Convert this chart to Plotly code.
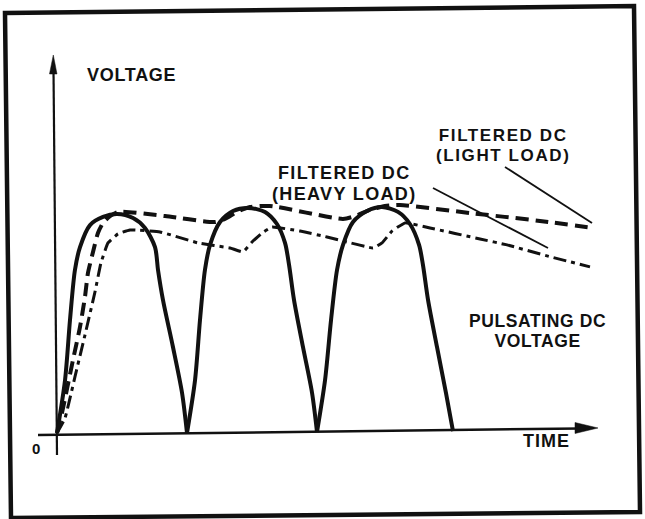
import plotly.graph_objects as go

W, H = 645, 519

# Time is measured in half-cycles of the AC input, voltage relative to the peak.
# Pulsating DC from a full-wave rectifier: three humps, separated by None.
pulse_t = [0.000, 0.062, 0.100, 0.138, 0.177, 0.254, 0.354, 0.462, 0.585, 0.677,
           0.754, 0.777, 0.815, 0.892, 0.962, 1.000, None,
           1.000, 1.062, 1.100, 1.138, 1.177, 1.254, 1.354, 1.469, 1.600, 1.692,
           1.754, 1.785, 1.823, 1.892, 1.962, 2.000, None,
           2.000, 2.062, 2.108, 2.154, 2.200, 2.277, 2.385, 2.500, 2.623, 2.715,
           2.785, 2.815, 2.854, 2.923, 2.992, 3.046]
pulse_v = [0.000, 0.241, 0.514, 0.741, 0.845, 0.945, 0.982, 0.995, 0.977, 0.932,
           0.845, 0.741, 0.605, 0.391, 0.182, 0.000, None,
           0.000, 0.241, 0.514, 0.741, 0.855, 0.959, 1.009, 1.023, 1.005, 0.950,
           0.864, 0.764, 0.605, 0.391, 0.182, 0.005, None,
           0.005, 0.241, 0.514, 0.741, 0.855, 0.959, 1.009, 1.027, 1.005, 0.950,
           0.855, 0.764, 0.605, 0.391, 0.182, 0.009]

# Filtered DC output, heavy load (large ripple)
heavy_t = [0.000, 0.062, 0.138, 0.215, 0.292, 0.338, 0.392, 0.469, 0.562, 0.792,
           1.085, 1.331, 1.431, 1.500, 1.577, 1.654, 1.869, 2.077, 2.231, 2.431,
           2.500, 2.577, 2.677, 2.869, 3.254, 3.462, 3.769, 4.100]
heavy_v = [0.000, 0.068, 0.255, 0.445, 0.641, 0.773, 0.864, 0.905, 0.923, 0.914,
           0.864, 0.841, 0.823, 0.868, 0.909, 0.936, 0.918, 0.891, 0.868, 0.841,
           0.864, 0.918, 0.955, 0.932, 0.882, 0.855, 0.805, 0.755]

# Filtered DC output, light load (small ripple)
light_t = [0.000, 0.038, 0.123, 0.177, 0.215, 0.238, 0.277, 0.315, 0.354, 0.408,
           0.469, 0.831, 1.215, 1.292, 1.385, 1.485, 1.638, 2.200, 2.292, 2.408,
           2.523, 2.638, 3.177, 3.715, 4.123]
light_v = [0.000, 0.091, 0.332, 0.482, 0.618, 0.727, 0.823, 0.909, 0.955, 0.986,
           1.005, 0.986, 0.959, 0.973, 1.005, 1.027, 1.032, 0.973, 0.986, 1.014,
           1.032, 1.036, 1.000, 0.964, 0.932]

INK = "#111111"
FONT = "Liberation Sans, Arial, Helvetica, sans-serif"


def paper(x, y):
    """Pixel position on the page -> paper coordinates."""
    return x / W, 1 - y / H


fig = go.Figure()
fig.add_trace(go.Scatter(x=light_t, y=light_v, mode="lines",
                         line=dict(color=INK, width=4, dash="13px,7px",
                                   shape="spline", smoothing=0.6),
                         hoverinfo="skip"))
fig.add_trace(go.Scatter(x=heavy_t, y=heavy_v, mode="lines",
                         line=dict(color=INK, width=3, dash="13px,5px,4px,5px",
                                   shape="spline", smoothing=0.3),
                         hoverinfo="skip"))
fig.add_trace(go.Scatter(x=pulse_t, y=pulse_v, mode="lines",
                         line=dict(color=INK, width=4, shape="spline", smoothing=0.8),
                         connectgaps=False, hoverinfo="skip"))

shapes = []


def seg(x0, y0, x1, y1, width):
    a, b = paper(x0, y0)
    c, d = paper(x1, y1)
    shapes.append(dict(type="line", xref="paper", yref="paper", x0=a, y0=b, x1=c, y1=d,
                       line=dict(color=INK, width=width)))


def poly(points, width=0, fill=None):
    p = " L ".join(f"{paper(x, y)[0]:.5f},{paper(x, y)[1]:.5f}" for x, y in points)
    shapes.append(dict(type="path", xref="paper", yref="paper", path=f"M {p} Z",
                       fillcolor=fill if fill else "rgba(0,0,0,0)",
                       line=dict(color=INK, width=width)))


# outer frame
poly([(5, 13), (634, 6), (640, 512), (11, 518)], width=4.5)
# axes with arrowheads
seg(57, 455, 53.5, 70, 2.2)
poly([(53.3, 55), (49.5, 74), (57, 74)], width=0.5, fill=INK)
seg(38, 435, 580, 428.5, 2.5)
poly([(598, 428), (575, 422.5), (575, 433.5)], width=0.5, fill=INK)
# leader lines to the filtered-DC curves
seg(433, 188, 548, 248, 1.8)
seg(505, 167, 592, 223, 1.8)

fig.update_layout(shapes=shapes)


def label(lines, x, y, size, spacing):
    """Bold label, one or more lines, centred on (x, y) in page pixels."""
    a, b = paper(x, y)
    body = "<br>".join(
        f"<span style='font-size:{size}px;letter-spacing:{spacing}px'><b>{t}</b></span>"
        for t in lines)
    # line pitch follows the base font size (1.3 em per line)
    fig.add_annotation(x=a, y=b, xref="paper", yref="paper", text=body,
                       showarrow=False, xanchor="center", yanchor="middle",
                       font=dict(family=FONT, size=size * 1.16 / 1.3, color=INK))


label(["VOLTAGE"], 131.5, 75, 18, 0.7)
label(["FILTERED DC", "(HEAVY LOAD)"], 344, 183.5, 18, 1.35)
label(["FILTERED DC", "(LIGHT LOAD)"], 503, 145, 17, 1.6)
label(["PULSATING DC", "VOLTAGE"], 537.5, 331, 17.5, 0.6)
label(["TIME"], 546.5, 441, 18, 1.0)
label(["0"], 35.5, 448, 15, 0)

fig.update_layout(
    width=W, height=H,
    margin=dict(l=0, r=0, t=0, b=0),
    paper_bgcolor="white", plot_bgcolor="white",
    showlegend=False,
    xaxis=dict(range=[-57 / 130, 588 / 130], visible=False, fixedrange=True),
    yaxis=dict(range=[-86 / 220, 433 / 220], visible=False, fixedrange=True),
)

fig.write_html("out.html")
